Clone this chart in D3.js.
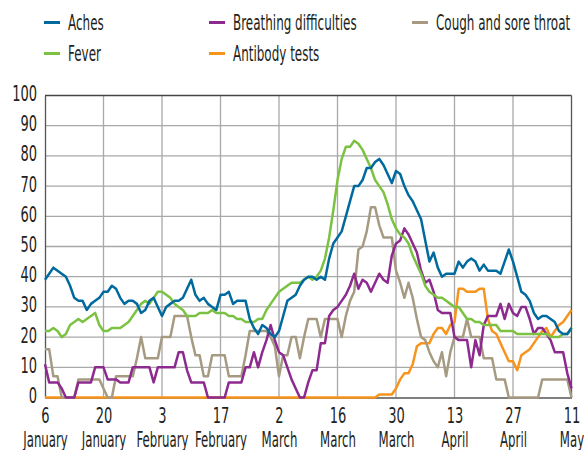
<!DOCTYPE html>
<html>
<head>
<meta charset="utf-8">
<script src="https://cdn.jsdelivr.net/npm/d3@7"></script>
<style>
  body { margin: 0; background: #fff; }
  svg text { font-family: "DejaVu Sans", sans-serif; fill: #231f20; }
</style>
</head>
<body>
<div id="chart"></div>
<script>
// daily values, 6 January to 11 May
var startDate = new Date(2020, 0, 6);
var tickDays = ["6", "20", "3", "17", "2", "16", "30", "13", "27", "11"];
var tickMonths = ["January", "January", "February", "February", "March", "March", "March", "April", "April", "May"];
var yTicks = [0, 10, 20, 30, 40, 50, 60, 70, 80, 90, 100];

var seriesNames = ["Aches", "Breathing difficulties", "Cough and sore throat", "Fever", "Antibody tests"];
var seriesColors = ["#006a9e", "#8d2a8f", "#a69b82", "#7cc242", "#f7941d"];

var aches = [39, 41, 43, 42, 41, 40, 37, 33, 32, 32, 29, 31, 32, 33, 35, 35, 37, 36, 33, 31,
  32, 32, 31, 28, 29, 32, 33, 30, 27, 30, 31, 32, 32, 33, 36, 39, 34, 32, 33, 31,
  30, 29, 34, 34, 35, 31, 32, 32, 32, 26, 23, 21, 24, 23, 21, 20, 22, 27, 32, 33,
  34, 37, 39, 40, 40, 39, 40, 39, 46, 51, 53, 55, 60, 65, 70, 70, 72, 76, 76, 78,
  79, 77, 74, 71, 75, 74, 70, 67, 65, 62, 59, 52, 45, 48, 43, 40, 41, 41, 41, 45,
  43, 45, 46, 45, 42, 44, 42, 42, 42, 41, 45, 49, 45, 40, 35, 34, 32, 28, 26, 27,
  27, 26, 25, 22, 21, 21, 23];
var breathing = [11, 5, 5, 5, 3, 0, 0, 0, 5, 5, 5, 5, 10, 10, 10, 6, 6, 6, 5, 5,
  5, 10, 10, 10, 10, 10, 5, 10, 10, 10, 10, 10, 15, 15, 9, 5, 5, 5, 5, 0,
  0, 0, 0, 0, 5, 5, 5, 5, 10, 10, 15, 10, 15, 19, 24, 19, 15, 14, 10, 6,
  3, 0, 0, 5, 9, 9, 18, 18, 27, 29, 30, 32, 34, 37, 41, 36, 39, 38, 35, 38,
  41, 39, 38, 47, 51, 52, 56, 54, 51, 48, 42, 38, 39, 35, 29, 28, 28, 28, 20, 19,
  19, 19, 10, 19, 14, 24, 27, 27, 27, 31, 26, 31, 28, 27, 30, 30, 26, 21, 23, 23,
  21, 19, 15, 15, 15, 8, 3];
var cough = [16, 16, 7, 7, 0, 0, 0, 0, 6, 6, 6, 6, 6, 6, 3, 0, 0, 7, 7, 7,
  7, 7, 13, 20, 13, 13, 13, 13, 20, 20, 20, 27, 27, 27, 27, 20, 14, 14, 7, 7,
  14, 14, 14, 14, 7, 7, 7, 7, 14, 22, 22, 22, 22, 22, 20, 17, 7, 14, 14, 20,
  20, 13, 20, 26, 26, 26, 20, 26, 26, 26, 26, 20, 27, 32, 35, 49, 50, 55, 63, 63,
  57, 53, 53, 53, 42, 38, 33, 38, 33, 26, 20, 19, 15, 12, 10, 15, 7, 15, 20, 20,
  20, 26, 20, 20, 20, 13, 13, 13, 6, 6, 6, 0, 0, 0, 0, 0, 0, 0, 0, 6,
  6, 6, 6, 6, 6, 6, 0];
var fever = [22, 22, 23, 22, 20, 21, 24, 25, 26, 25, 26, 27, 28, 24, 22, 22, 23, 23, 23, 24,
  25, 27, 29, 31, 32, 31, 33, 35, 35, 34, 33, 31, 30, 29, 27, 27, 27, 28, 28, 28,
  29, 28, 28, 28, 27, 27, 26, 26, 25, 25, 25, 26, 26, 29, 31, 33, 35, 36, 37, 38,
  38, 38, 39, 40, 39, 40, 42, 46, 53, 62, 72, 79, 83, 83, 85, 84, 82, 79, 76, 72,
  70, 68, 64, 59, 56, 54, 53, 51, 47, 44, 41, 37, 35, 34, 33, 33, 32, 31, 30, 30,
  28, 26, 26, 25, 25, 24, 24, 24, 24, 22, 22, 22, 22, 21, 21, 21, 21, 21, 21, 21,
  21, 20, 20, 20, 21, 21, 23];
var antibody = [0, 0, 0, 0, 0, 0, 0, 0, 0, 0, 0, 0, 0, 0, 0, 0, 0, 0, 0, 0,
  0, 0, 0, 0, 0, 0, 0, 0, 0, 0, 0, 0, 0, 0, 0, 0, 0, 0, 0, 0,
  0, 0, 0, 0, 0, 0, 0, 0, 0, 0, 0, 0, 0, 0, 0, 0, 0, 0, 0, 0,
  0, 0, 0, 0, 0, 0, 0, 0, 0, 0, 0, 0, 0, 0, 0, 0, 0, 0, 0, 0,
  1, 1, 1, 1, 3, 6, 8, 8, 11, 17, 18, 18, 18, 21, 23, 23, 21, 24, 25, 36,
  36, 35, 35, 35, 36, 36, 26, 22, 21, 18, 15, 12, 12, 9, 14, 15, 16, 18, 20, 22,
  23, 20, 22, 24, 25, 27, 29];

var seriesValues = [aches, breathing, cough, fever, antibody];

// the reference uses a condensed face; squeeze DejaVu to match
var squeeze = 0.62,
    monthSqueeze = 0.56,
    legendSqueeze = 0.57;
var fontSize = "21px";

// layout
var margin = {top: 95.5, right: 12.5, bottom: 52.5, left: 45},
    width = 584 - margin.left - margin.right,
    height = 450 - margin.top - margin.bottom;

var svg = d3.select("#chart").append("svg")
    .attr("width", 584)
    .attr("height", 450);

var g = svg.append("g")
    .attr("transform", "translate(" + margin.left + "," + margin.top + ")");

var endDate = d3.timeDay.offset(startDate, aches.length - 1);
var x = d3.scaleTime().domain([startDate, endDate]).range([0, width]);
var y = d3.scaleLinear().domain([0, 100]).range([height, 0]);

var tickDates = tickDays.map(function (d, i) {
    return d3.timeDay.offset(startDate, 14 * i);
});

// gridlines
g.append("g")
    .attr("class", "grid")
    .selectAll("line")
    .data(yTicks.slice(1, -1))
    .enter().append("line")
    .attr("x1", 0)
    .attr("x2", width)
    .attr("y1", function (d) { return y(d); })
    .attr("y2", function (d) { return y(d); })
    .attr("stroke", "#a8a8a8")
    .attr("stroke-width", 1.3);

g.append("g")
    .attr("class", "grid")
    .selectAll("line")
    .data(tickDates.slice(1, -1))
    .enter().append("line")
    .attr("x1", function (d) { return x(d); })
    .attr("x2", function (d) { return x(d); })
    .attr("y1", 0)
    .attr("y2", height)
    .attr("stroke", "#a8a8a8")
    .attr("stroke-width", 1.3);

// frame
g.append("line").attr("x1", 0).attr("x2", width).attr("y1", 0).attr("y2", 0)
    .attr("stroke", "#444").attr("stroke-width", 1.3);
g.append("line").attr("x1", width).attr("x2", width).attr("y1", 0).attr("y2", height)
    .attr("stroke", "#555").attr("stroke-width", 1.3);

// y axis
var yAxis = g.append("g")
    .call(d3.axisLeft(y).tickValues(yTicks).tickSize(0));
yAxis.select(".domain").attr("stroke", "#555").attr("stroke-width", 1.3);
yAxis.selectAll(".tick text")
    .style("font-size", fontSize)
    .attr("x", -8 / squeeze)
    .attr("dy", "5px")
    .attr("transform", "scale(" + squeeze + ",1)");

// x axis: day numbers, then month names on a second row
var xAxis = g.append("g")
    .attr("transform", "translate(0," + height + ")")
    .call(d3.axisBottom(x).tickValues(tickDates).tickSize(0)
        .tickFormat(function (d, i) { return tickDays[i]; }));
xAxis.select(".domain").attr("stroke", "#555").attr("stroke-width", 1.3);
xAxis.selectAll(".tick text")
    .style("font-size", fontSize)
    .attr("y", 26)
    .attr("dy", 0)
    .attr("transform", "scale(" + squeeze + ",1)");
xAxis.selectAll(".tick")
    .append("text")
    .attr("fill", "#231f20")
    .attr("text-anchor", "middle")
    .attr("y", 49.5)
    .attr("transform", "scale(" + monthSqueeze + ",1)")
    .style("font-size", fontSize)
    .text(function (d, i) { return tickMonths[i]; });

// lines
var line = d3.line()
    .x(function (d, i) { return x(d3.timeDay.offset(startDate, i)); })
    .y(function (d) { return y(d); });

var drawOrder = [4, 2, 1, 3, 0];
drawOrder.forEach(function (k) {
    g.append("path")
        .datum(seriesValues[k])
        .attr("fill", "none")
        .attr("stroke", seriesColors[k])
        .attr("stroke-width", 2.5)
        .attr("stroke-linejoin", "round")
        .attr("d", line);
});

// legend
var legendPos = [[44, 22.5], [209, 22.5], [412, 22.5], [44, 53.5], [209, 53.5]];
var legend = svg.append("g").attr("class", "legend");
seriesNames.forEach(function (name, i) {
    legend.append("line")
        .attr("x1", legendPos[i][0])
        .attr("x2", legendPos[i][0] + 16)
        .attr("y1", legendPos[i][1])
        .attr("y2", legendPos[i][1])
        .attr("stroke", seriesColors[i])
        .attr("stroke-width", 3);
    legend.append("text")
        .attr("transform", "translate(" + (legendPos[i][0] + 24) + "," + (legendPos[i][1] + 7) + ") scale(" + legendSqueeze + ",1)")
        .style("font-size", fontSize)
        .text(name);
});
</script>
</body>
</html>
